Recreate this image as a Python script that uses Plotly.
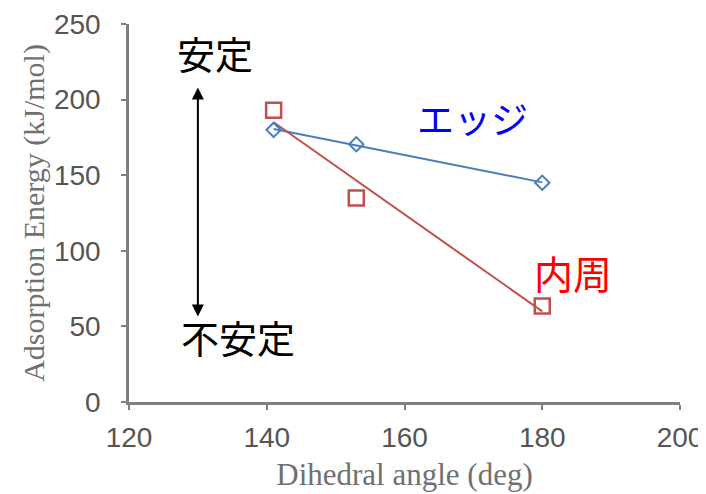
import numpy as np
import plotly.graph_objects as go

# Data
angles = [141, 153, 180]
edge_energy = [180, 170.5, 145]      # エッジ
inner_energy = [193, 135, 63.5]      # 内周

x_ticks = [120, 140, 160, 180, 200]
y_ticks = [0, 50, 100, 150, 200, 250]

BLUE = "#4a7ebb"
RED = "#c0504d"

def fit_line(x, y):
    k, b = np.polyfit(x, y, 1)
    xs = np.array([min(x), max(x)], dtype=float)
    return xs, k * xs + b

fig = go.Figure()

ex, ey = fit_line(angles, edge_energy)
ix, iy = fit_line(angles, inner_energy)

fig.add_trace(go.Scatter(x=ex, y=ey, mode="lines", line=dict(color=BLUE, width=2),
                         showlegend=False, hoverinfo="skip"))
fig.add_trace(go.Scatter(x=ix, y=iy, mode="lines", line=dict(color=RED, width=2),
                         showlegend=False, hoverinfo="skip"))
fig.add_trace(go.Scatter(x=angles, y=edge_energy, mode="markers", name="エッジ",
                         marker=dict(symbol="diamond-open", size=11, color=BLUE,
                                     line=dict(width=2, color=BLUE)),
                         showlegend=False))
fig.add_trace(go.Scatter(x=angles, y=inner_energy, mode="markers", name="内周",
                         marker=dict(symbol="square-open", size=15, color=RED,
                                     line=dict(width=2.5, color=RED)),
                         showlegend=False))

cjk = "Noto Sans CJK JP"
annotations = [
    dict(x=132.5, y=231, text="安定", showarrow=False, xref="x", yref="y",
         font=dict(family=cjk, size=38, color="black")),
    dict(x=135.8, y=43, text="不安定", showarrow=False, xref="x", yref="y",
         font=dict(family=cjk, size=38, color="black")),
    dict(x=169.9, y=188, text="エッジ", showarrow=False, xref="x", yref="y",
         font=dict(family=cjk, size=37, color="#0000ff")),
    dict(x=184.4, y=86, text="内周", showarrow=False, xref="x", yref="y",
         font=dict(family=cjk, size=39, color="#ff0000")),
    dict(x=130, y=208, ax=130, ay=55.5, xref="x", yref="y", axref="x", ayref="y",
         text="", showarrow=True, arrowhead=2, arrowside="end+start",
         arrowsize=1.2, arrowwidth=2, arrowcolor="black"),
]

axis_common = dict(
    showline=True, linecolor="#808080", linewidth=2.5,
    ticks="outside", ticklen=5, tickwidth=2, tickcolor="#808080",
    showgrid=False, zeroline=False, automargin=False,
    tickfont=dict(family="Liberation Sans", size=28, color="#555555"),
)

# page body has an 8px margin, so the figure is sized to fit the 706x494 window
fig.update_layout(
    width=698, height=486,
    margin=dict(l=121, r=26, t=16, b=92),
    paper_bgcolor="white", plot_bgcolor="white",
    xaxis=dict(range=[120, 200], tickvals=x_ticks, ticklabelstandoff=4,
               title=dict(text="Dihedral angle (deg)", standoff=11,
                          font=dict(family="Liberation Serif", size=31, color="#707070")),
               **axis_common),
    yaxis=dict(range=[0, 250], tickvals=y_ticks, ticklabelstandoff=15,
               title=dict(text="Adsorption Energy (kJ/mol)", standoff=1,
                          font=dict(family="Liberation Serif", size=30, color="#707070")),
               **axis_common),
    annotations=annotations,
)

fig.write_html("out.html")
